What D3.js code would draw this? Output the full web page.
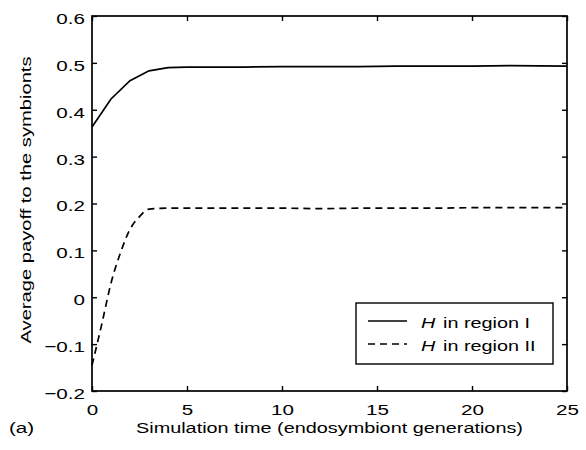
<!DOCTYPE html>
<html>
<head>
<meta charset="utf-8">
<script src="https://d3js.org/d3.v7.min.js"></script>
<style>
  body { margin: 0; background: #fff; }
  text { font-family: "Liberation Sans", Arial, Helvetica, sans-serif; fill: #000; }
</style>
</head>
<body>
<div class="Canvas"></div>
<script>
const times = [0, 1, 2, 3, 4, 5, 6, 8, 10, 12, 14, 16, 18, 20, 22, 25];
const regionI = [0.363, 0.423, 0.462, 0.483, 0.490, 0.491, 0.491, 0.491, 0.492, 0.492, 0.492, 0.493, 0.493, 0.493, 0.494, 0.493];
const dashTimes = [0, 0.5, 1, 1.5, 2, 2.5, 3, 4, 6, 8, 10, 12, 14, 16, 18, 20, 22, 25];
const regionII = [-0.145, -0.06, 0.03, 0.095, 0.145, 0.172, 0.188, 0.190, 0.190, 0.190, 0.190, 0.189, 0.190, 0.190, 0.190, 0.191, 0.191, 0.191];
const xTicks = [0, 5, 10, 15, 20, 25];
const yTicks = [-0.2, -0.1, 0, 0.1, 0.2, 0.3, 0.4, 0.5, 0.6];
const legendLabels = ['in region I', 'in region II'];

const width = 586;
const height = 450;
const margin = { left: 92, right: 19, top: 16, bottom: 59 };
const tickLen = 5;
const fontSize = 15.5;
const stretchX = 1.33;

const svg = d3.select('.Canvas').append('svg').attr('width', width).attr('height', height);

const x = d3.scaleLinear().domain([0, 25]).range([margin.left, width - margin.right]);
const y = d3.scaleLinear().domain([-0.2, 0.6]).range([height - margin.bottom, margin.top]);

const fmt = (d) => (d < 0 ? '\u2212' + Math.abs(d) : String(Math.round(d * 10) / 10));

// the original lettering is wider than Liberation Sans, so widen it around its anchor
const stretch = (sel, sx) => {
  sel.each(function () {
    const el = d3.select(this);
    const ax = +el.attr('x') || 0;
    const ay = +el.attr('y') || 0;
    const prev = el.attr('transform') || '';
    el.attr('transform', `${prev} translate(${ax},${ay}) scale(${sx},1) translate(${-ax},${-ay})`);
  });
};

// box
svg.append('rect')
  .attr('x', x(0)).attr('y', y(0.6))
  .attr('width', x(25) - x(0)).attr('height', y(-0.2) - y(0.6))
  .attr('fill', 'none').attr('stroke', '#000').attr('stroke-width', 1.7);

// inward ticks
const bottomAxis = d3.axisBottom(x).tickValues(xTicks).tickSize(-tickLen).tickPadding(13).tickFormat(d3.format('d'));
const topAxis = d3.axisTop(x).tickValues(xTicks).tickSize(-tickLen).tickFormat('');
const leftAxis = d3.axisLeft(y).tickValues(yTicks).tickSize(-tickLen).tickPadding(7).tickFormat(fmt);
const rightAxis = d3.axisRight(y).tickValues(yTicks).tickSize(-tickLen).tickFormat('');

const styleAxis = (g) => {
  g.select('.domain').remove();
  g.selectAll('.tick line').attr('stroke', '#000').attr('stroke-width', 1.4);
  g.selectAll('.tick text').attr('font-size', fontSize + 'px').attr('font-family', '"Liberation Sans", Arial, sans-serif').attr('fill', '#000');
};
const gx = svg.append('g').attr('transform', `translate(0,${y(-0.2)})`).call(bottomAxis).call(styleAxis);
svg.append('g').attr('transform', `translate(0,${y(0.6)})`).call(topAxis).call(styleAxis);
const gy = svg.append('g').attr('transform', `translate(${x(0)},0)`).call(leftAxis).call(styleAxis);
svg.append('g').attr('transform', `translate(${x(25)},0)`).call(rightAxis).call(styleAxis);
gy.selectAll('.tick text').attr('dy', '0.48em');
stretch(gx.selectAll('.tick text'), stretchX);
stretch(gy.selectAll('.tick text'), stretchX);

// lines
const line = d3.line().x((d) => x(d[0])).y((d) => y(d[1]));
svg.append('path')
  .datum(times.map((t, i) => [t, regionI[i]]))
  .attr('d', line)
  .attr('fill', 'none').attr('stroke', '#000').attr('stroke-width', 1.7);
svg.append('path')
  .datum(dashTimes.map((t, i) => [t, regionII[i]]))
  .attr('d', d3.line().curve(d3.curveMonotoneX).x((d) => x(d[0])).y((d) => y(d[1])))
  .attr('fill', 'none').attr('stroke', '#000').attr('stroke-width', 1.7)
  .attr('stroke-dasharray', '7,5');

// axis labels
const xLabel = svg.append('text')
  .attr('x', (x(0) + x(25)) / 2).attr('y', 433)
  .attr('text-anchor', 'middle').attr('font-size', fontSize + 'px')
  .text('Simulation time (endosymbiont generations)');
stretch(xLabel, 1.28);
const yLabel = svg.append('text')
  .attr('x', 0).attr('y', 0)
  .attr('transform', 'translate(31,200) rotate(-90)')
  .attr('text-anchor', 'middle').attr('font-size', fontSize + 'px')
  .text('Average payoff to the symbionts');
stretch(yLabel, 1.3);
const tag = svg.append('text')
  .attr('x', 9).attr('y', 433).attr('font-size', fontSize + 'px')
  .text('(a)');
stretch(tag, stretchX);

// legend
const legend = svg.append('g');
legend.append('rect')
  .attr('x', 356).attr('y', 303).attr('width', 197).attr('height', 61)
  .attr('fill', '#fff').attr('stroke', '#000').attr('stroke-width', 1.4);
legendLabels.forEach((lab, i) => {
  const ly = 321 + i * 23;
  legend.append('line')
    .attr('x1', 368).attr('x2', 407).attr('y1', ly).attr('y2', ly)
    .attr('stroke', '#000').attr('stroke-width', 1.7)
    .attr('stroke-dasharray', i === 1 ? '7,5' : null);
  const t = legend.append('text').attr('x', 421).attr('y', ly + 7).attr('font-size', fontSize + 'px');
  t.append('tspan').attr('font-style', 'italic').text('H');
  t.append('tspan').attr('dx', 6).text(lab);
  stretch(t, 1.28);
});
</script>
</body>
</html>
